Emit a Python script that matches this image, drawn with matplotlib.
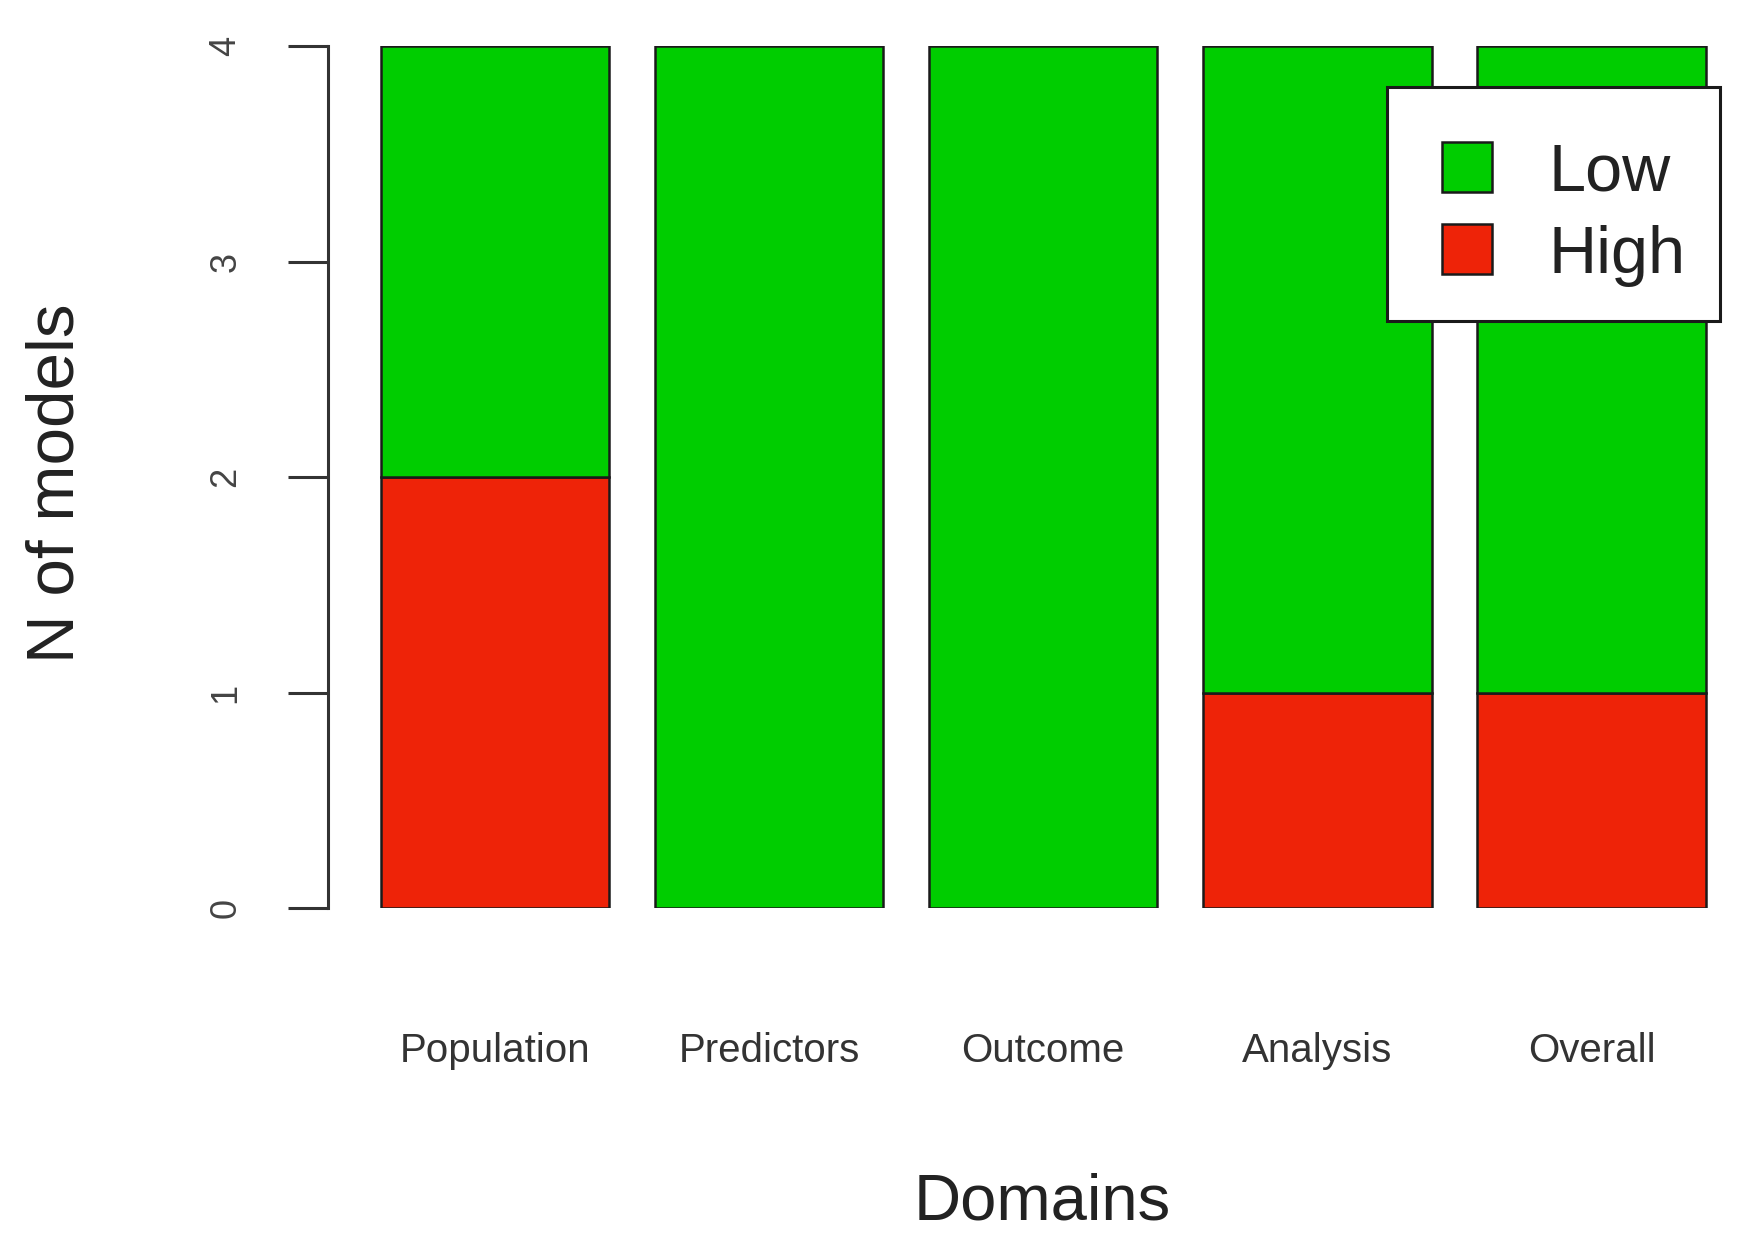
import numpy as np
import matplotlib.pyplot as plt
import matplotlib.patches as mpatches
from matplotlib.legend_handler import HandlerPatch

plt.rcParams['font.family'] = ['Liberation Sans', 'DejaVu Sans']

categories = ["Population", "Predictors", "Outcome", "Analysis", "Overall"]
high = [2, 0, 0, 1, 1]
low = [2, 4, 4, 3, 3]
yticks = [0, 1, 2, 3, 4]

green = '#00CD00'
red = '#EE2308'

fig = plt.figure(figsize=(17.42, 12.48), dpi=100)
# axes placed in pixels: left spine at x=328, y=0 at 908, y=4 at 46
ax = fig.add_axes([328 / 1742, (1248 - 908) / 1248, (1742 - 328) / 1742, (908 - 46) / 1248])

# R barplot spacing: width 1, space 0.2
x = 0.2 + 1.2 * np.arange(len(categories)) + 0.5
ax.bar(x, high, width=1, color=red, edgecolor='#1a1a1a', linewidth=1.8, label='High')
ax.bar(x, low, width=1, bottom=high, color=green, edgecolor='#1a1a1a', linewidth=1.8, label='Low')

ax.set_xlim(-0.03, -0.03 + (1742 - 328) / 228.5)
ax.set_ylim(0, 4)

for s in ['top', 'right', 'bottom']:
    ax.spines[s].set_visible(False)
ax.spines['left'].set_color('#333333')
ax.spines['left'].set_linewidth(2.2)

ax.set_yticks(yticks)
ax.set_yticklabels([str(v) for v in yticks], rotation=90, va='center', color='#444444', fontsize=26)
ax.tick_params(axis='y', length=29, width=2.2, color='#333333', pad=32)

ax.set_xticks(x)
ax.set_xticklabels(categories, fontsize=29, color='#333333')
ax.tick_params(axis='x', length=0, pad=89)

ax.set_xlabel('Domains', fontsize=47, color='#222222', va='center')
ax.xaxis.set_label_coords(1042 / 1742, 45 / 1248, transform=fig.transFigure)
ax.set_ylabel('N of models', fontsize=48.5, color='#222222', va='center')
ax.yaxis.set_label_coords(56 / 1742, (1248 - 483) / 1248, transform=fig.transFigure)


def square(legend, orig_handle, xdescent, ydescent, width, height, fontsize):
    s = 50 * 72 / legend.figure.dpi
    return mpatches.Rectangle((-xdescent + width - s, -ydescent + (height - s) / 2), s, s)


handles = [mpatches.Patch(facecolor=green, edgecolor='#1a1a1a', linewidth=1.8),
           mpatches.Patch(facecolor=red, edgecolor='#1a1a1a', linewidth=1.8)]
leg = fig.legend(handles, ['Low', 'High'], loc='upper right',
                 bbox_to_anchor=(1720 / 1742, (1248 - 87) / 1248),
                 fontsize=48, fancybox=False, framealpha=1, edgecolor='#1a1a1a',
                 borderpad=0.52, borderaxespad=0, handlelength=1.05, handleheight=0.75,
                 handletextpad=0.85, labelspacing=0.30,
                 title=' ', title_fontsize=1,
                 handler_map={mpatches.Patch: HandlerPatch(patch_func=square)})
leg.get_frame().set_linewidth(2.2)
for t in leg.get_texts():
    t.set_color('#222222')

fig.savefig('out.png', dpi=100)
